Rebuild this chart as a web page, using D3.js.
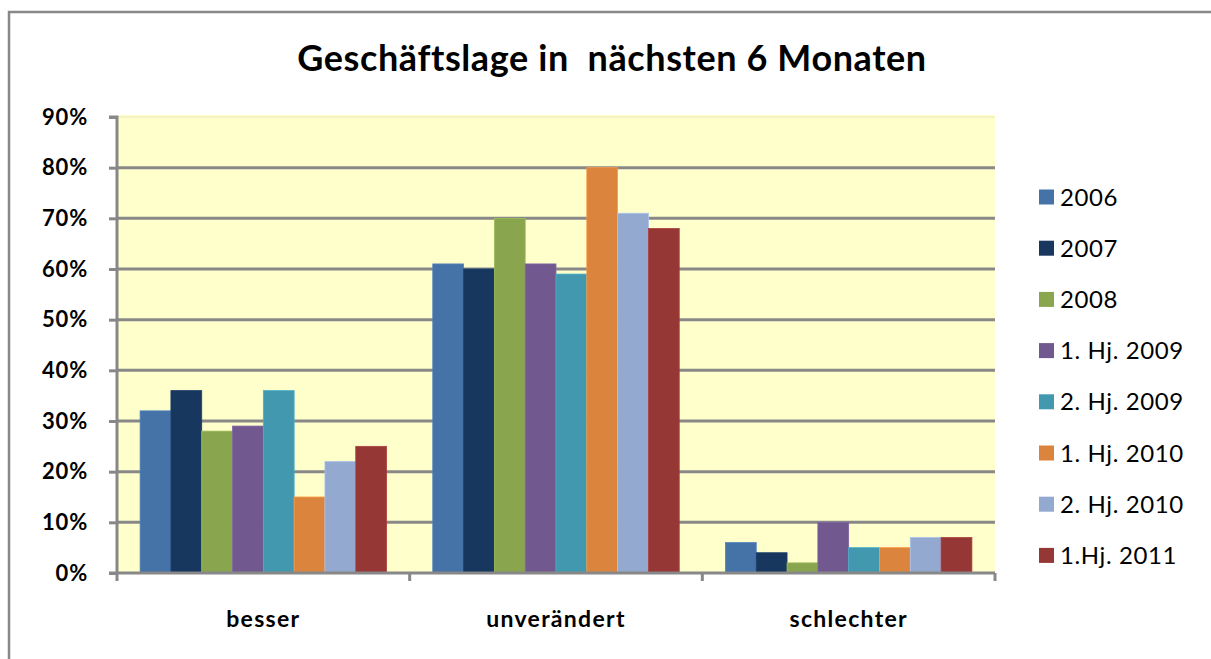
<!DOCTYPE html>
<html><head><meta charset="utf-8">
<script src="https://cdn.jsdelivr.net/npm/d3@7"></script>
<style>body{margin:0;background:#fff}svg{display:block}</style>
</head><body>
<script>
const categories = ["besser", "unverändert", "schlechter"];
const seriesNames = ["2006", "2007", "2008", "1. Hj. 2009", "2. Hj. 2009", "1. Hj. 2010", "2. Hj. 2010", "1.Hj. 2011"];
const v2006 = [32, 61, 6];
const v2007 = [36, 60, 4];
const v2008 = [28, 70, 2];
const v1hj2009 = [29, 61, 10];
const v2hj2009 = [36, 59, 5];
const v1hj2010 = [15, 80, 5];
const v2hj2010 = [22, 71, 7];
const v1hj2011 = [25, 68, 7];
const seriesValues = [v2006, v2007, v2008, v1hj2009, v2hj2009, v1hj2010, v2hj2010, v1hj2011];
const colors = ["#4572A7", "#17375E", "#89A54E", "#71588F", "#4198AF", "#DB843D", "#93A9CF", "#953735"];
const yTicks = [0, 10, 20, 30, 40, 50, 60, 70, 80, 90];
const title = "Geschäftslage in  nächsten 6 Monaten";

(function () {
const W = 1211, H = 659;
const FONT = "Lato, 'Open Sans', sans-serif";
const svg = d3.select("body").append("svg").attr("width", W).attr("height", H);
svg.append("rect").attr("x", 9).attr("y", 12).attr("width", 1220).attr("height", 700)
  .attr("fill", "#fff").attr("stroke", "#888").attr("stroke-width", 2.5);

const pL = 117, pR = 995, pT = 117, pB = 573;
const x0 = d3.scaleBand().domain(categories).range([pL, pR]).paddingInner(0).paddingOuter(0);
const x1 = d3.scaleBand().domain(seriesNames).range([0, x0.bandwidth()]).paddingOuter(0.75).paddingInner(0);
const y = d3.scaleLinear().domain([0, 90]).range([pB, pT]);

svg.append("rect").attr("x", pL).attr("y", pT - 2).attr("width", pR - pL).attr("height", pB - pT + 2).attr("fill", "#FFFFCC");

// gridlines
svg.append("g").selectAll("line").data(yTicks.filter(d => d > 0)).join("line")
  .attr("x1", pL).attr("x2", pR).attr("y1", d => y(d)).attr("y2", d => y(d))
  .attr("stroke", d => d === 90 ? "#e8e6b8" : "#888").attr("stroke-width", d => d === 90 ? 1 : 3);

// bars
const g = svg.append("g");
categories.forEach((c, ci) => {
  seriesNames.forEach((s, si) => {
    const v = seriesValues[si][ci];
    g.append("rect").attr("x", x0(c) + x1(s)).attr("y", y(v))
      .attr("width", x1.bandwidth()).attr("height", y(0) - y(v))
      .attr("fill", colors[si]).attr("stroke", d3.color(colors[si]).brighter(0.4)).attr("stroke-width", 0.8);
  });
});

// y axis
const yAxis = svg.append("g").attr("transform", `translate(${pL},0)`)
  .call(d3.axisLeft(y).tickValues(yTicks).tickFormat(d => d + "%").tickSize(8).tickPadding(21));
yAxis.select(".domain").attr("stroke", "#888").attr("stroke-width", 3).attr("d", `M-8,${pT}H0V${pB}`);
yAxis.selectAll(".tick line").attr("stroke", "#888").attr("stroke-width", 3);
yAxis.selectAll(".tick text").attr("font-family", FONT).attr("font-weight", "bold")
  .attr("font-size", 22).attr("letter-spacing", 0.8).attr("fill", "#000");

// x axis
const xAxis = svg.append("g").attr("transform", `translate(0,${pB})`);
xAxis.append("line").attr("x1", pL - 8).attr("x2", pR).attr("y1", 0).attr("y2", 0).attr("stroke", "#888").attr("stroke-width", 3);
[pL, pL + x0.bandwidth(), pL + 2 * x0.bandwidth(), pR].forEach(xx => {
  xAxis.append("line").attr("x1", xx).attr("x2", xx).attr("y1", 0).attr("y2", 8).attr("stroke", "#888").attr("stroke-width", 3);
});
xAxis.selectAll("text.cat").data(categories).join("text").attr("class", "cat")
  .attr("x", d => x0(d) + x0.bandwidth() / 2).attr("y", 54)
  .attr("text-anchor", "middle").attr("font-family", FONT)
  .attr("font-weight", "bold").attr("font-size", 23).attr("letter-spacing", 1.3).text(d => d);

// title
svg.append("text").attr("x", 612).attr("y", 71).attr("text-anchor", "middle")
  .attr("font-family", FONT).attr("font-weight", "bold").attr("font-size", 36).attr("letter-spacing", 0.6)
  .style("white-space", "pre").text(title);

// legend
const leg = svg.append("g");
seriesNames.forEach((s, i) => {
  const cy = 197 + i * 51.2;
  leg.append("rect").attr("x", 1039).attr("y", cy - 7.5).attr("width", 15).attr("height", 15).attr("fill", colors[i]);
  leg.append("text").attr("x", 1060).attr("y", cy + 8.5).attr("font-family", FONT)
    .attr("font-size", 24).attr("letter-spacing", 0.6).attr("fill", "#000").text(s);
});
})();
</script>
</body></html>
